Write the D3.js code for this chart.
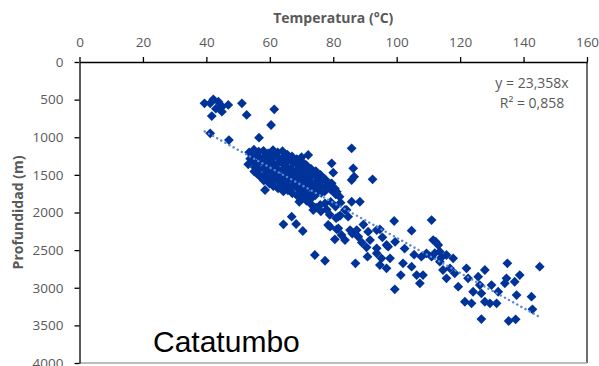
<!DOCTYPE html>
<html>
<head>
<meta charset="utf-8">
<script src="https://cdn.jsdelivr.net/npm/d3@7"></script>
<style>
  body { margin: 0; background: #fff; }
  svg text { font-family: "Open Sans", sans-serif; }
</style>
</head>
<body>
<div id="chart"></div>
<script>
const width = 599;
const height = 366;

const xTicks = [0, 20, 40, 60, 80, 100, 120, 140, 160];
const yTicks = [0, 500, 1000, 1500, 2000, 2500, 3000, 3500, 4000];

// [temperatura °C, profundidad m]
const shallowPoints = [
  [39.4, 549], [42.2, 496], [41.2, 549], [43.8, 528], [46.9, 571], [44.9, 660],
  [41.7, 718], [43, 620], [45, 590], [51.2, 549], [52.7, 704], [61.4, 629],
  [60.4, 837], [41.2, 948], [47.1, 1037], [56.6, 1006], [72.1, 1236]
];

const clusterPoints = [
  [53.5, 1200], [53.8, 1285], [53.2, 1360],
  [55, 1165], [55.2, 1245], [54.8, 1320], [55.3, 1400], [55.1, 1455],
  [56.5, 1190], [56.8, 1270], [56.3, 1350], [56.6, 1430], [56.9, 1520],
  [58, 1180], [58.3, 1255], [57.8, 1330], [58.2, 1410], [58.4, 1490], [58.1, 1575],
  [59.5, 1215], [59.8, 1290], [59.3, 1370], [59.7, 1450], [59.6, 1530], [59.9, 1615],
  [61, 1170], [61.3, 1250], [60.8, 1330], [61.2, 1410], [61.4, 1490], [60.9, 1570], [61.1, 1650],
  [62.5, 1200], [62.8, 1280], [62.3, 1360], [62.7, 1440], [62.4, 1520], [62.9, 1600], [62.6, 1680],
  [64, 1185], [64.3, 1260], [63.8, 1340], [64.2, 1420], [64.4, 1500], [63.9, 1580], [64.1, 1660], [64.3, 1720],
  [65.5, 1230], [65.8, 1310], [65.3, 1390], [65.6, 1470], [65.9, 1550], [65.4, 1630], [65.7, 1705],
  [67, 1255], [67.3, 1340], [66.8, 1420], [67.2, 1500], [67.4, 1580], [66.9, 1660], [67.1, 1745],
  [68.5, 1290], [68.8, 1370], [68.3, 1450], [68.7, 1530], [68.4, 1610], [68.9, 1690], [68.6, 1775],
  [70, 1265], [70.3, 1330], [69.8, 1410], [70.2, 1490], [70.4, 1570], [69.9, 1650], [70.1, 1730], [70.3, 1815],
  [71.5, 1370], [71.8, 1450], [71.3, 1530], [71.7, 1610], [71.4, 1690], [71.9, 1770], [71.6, 1845],
  [73, 1420], [73.3, 1500], [72.8, 1580], [73.2, 1660], [73.4, 1740], [72.9, 1820], [73.1, 1895],
  [74.5, 1450], [74.8, 1530], [74.3, 1610], [74.7, 1690], [74.4, 1770], [74.6, 1935],
  [76, 1500], [76.3, 1580], [75.8, 1660], [76.2, 1740], [75.9, 1900], [76.1, 1985],
  [77.5, 1560], [77.8, 1640], [77.3, 1720], [77.4, 1880], [77.9, 1960],
  [79, 1620], [79.3, 1700], [79.2, 1860], [78.9, 2030],
  [80.5, 1680], [80.8, 1760], [80.7, 1920], [80.9, 2075],
  [82, 1790], [82.3, 1870], [82.2, 2040]
];

const middlePoints = [
  [55.9, 1479], [58.5, 1701], [64.3, 2157], [66.9, 2056], [68.3, 2153], [70.4, 2246],
  [69.3, 1857], [73.7, 1967], [79.5, 1346], [80, 1471], [79.5, 1612], [81.1, 1724],
  [83.7, 1967], [81.6, 2056], [79, 2189], [81.6, 2210], [82.6, 2299], [85.8, 1147],
  [86.3, 1413], [85.8, 1568], [86.6, 1524], [92.4, 1559], [85.8, 1857], [88.4, 1857],
  [84.2, 1967], [84.7, 2056], [78.4, 2166], [81.1, 2223], [85.3, 2233], [87.4, 2233],
  [91, 2255], [93.7, 2233], [94.7, 2223], [80.5, 2356], [83.7, 2366], [87.9, 2322],
  [91.6, 2366], [90.5, 2463], [93.7, 2476], [96.8, 2432], [99.2, 2113], [104.7, 2242],
  [111, 2100], [111.5, 2366], [112.3, 2388], [113.1, 2432], [74.2, 2565], [77.4, 2641],
  [86, 2280], [89, 2400], [89.5, 2160], [95.5, 2330], [99.5, 2390], [102.5, 2480],
  [105.5, 2560]
];

const deepPoints = [
  [87, 2675], [90.8, 2587], [93.7, 2542], [95.2, 2609], [94.7, 2698], [96.8, 2742],
  [97.9, 2609], [97.3, 2454], [102, 2675], [104.7, 2720], [101.3, 2831], [99.4, 3021],
  [107.8, 2587], [109.4, 2542], [111, 2587], [106.3, 2831], [108.3, 2831], [107.3, 2941],
  [112, 2540], [114, 2600], [113.6, 2521], [115.7, 2565], [117.8, 2609], [113.6, 2654],
  [114.6, 2764], [116.8, 2742], [118.3, 2808], [122, 2742], [115.7, 2875], [119.4, 2986],
  [122.5, 2875], [125.7, 2853], [127.8, 2764], [124.1, 3053], [126.2, 2964], [126.7, 3074],
  [121.5, 3186], [123.6, 3207], [127.8, 3186], [129.4, 3207], [131.5, 3207], [129.9, 2964],
  [132, 3053], [134.1, 2941], [134.9, 2675], [134.6, 2875], [137.2, 2920], [138.8, 2831],
  [137.8, 3097], [142.5, 3119], [142.8, 3287], [145.1, 2720], [126.7, 3416], [135.3, 3442],
  [137.5, 3420]
];

const slope = 23.358;
const trendExtent = [39.5, 145];
const equationLines = ["y = 23,358x", "R\u00b2 = 0,858"];

const allPoints = shallowPoints.concat(clusterPoints, middlePoints, deepPoints);

const margin = { top: 62, left: 79.5, right: 12, bottom: 3 };

const svg = d3.select("#chart")
  .append("svg")
  .attr("width", width)
  .attr("height", height);

const x = d3.scaleLinear()
  .domain([0, 160])
  .range([margin.left, width - margin.right]);

const y = d3.scaleLinear()
  .domain([0, 4000])
  .range([margin.top, height - margin.bottom]);

// plot frame (right and bottom in gray)
svg.append("line")
  .attr("x1", x(160)).attr("x2", x(160))
  .attr("y1", y(0)).attr("y2", y(4000))
  .attr("stroke", "#6e6e6e")
  .attr("stroke-width", 2);
svg.append("line")
  .attr("x1", x(0)).attr("x2", x(160))
  .attr("y1", y(4000)).attr("y2", y(4000))
  .attr("stroke", "#a6a6a6")
  .attr("stroke-width", 1.5);

// points
svg.append("g")
  .selectAll("path")
  .data(allPoints)
  .enter()
  .append("path")
  .attr("d", d3.symbol(d3.symbolSquare, 48))
  .attr("transform", d => `translate(${x(d[0])},${y(d[1])}) rotate(45)`)
  .attr("fill", "#003399");

// trend line
svg.append("line")
  .attr("x1", x(trendExtent[0])).attr("y1", y(slope * trendExtent[0]))
  .attr("x2", x(trendExtent[1])).attr("y2", y(slope * trendExtent[1]))
  .attr("stroke", "#5a88d6")
  .attr("stroke-width", 2.4)
  .attr("stroke-linecap", "round")
  .attr("stroke-dasharray", "0.1 4.6");

// axes
const xAxis = svg.append("g")
  .attr("transform", `translate(0,${margin.top})`)
  .call(d3.axisTop(x).tickValues(xTicks).tickFormat(d3.format("d"))
    .tickSize(5).tickSizeOuter(0).tickPadding(10));

const yAxis = svg.append("g")
  .attr("transform", `translate(${margin.left},0)`)
  .call(d3.axisLeft(y).tickValues(yTicks).tickFormat(d3.format("d"))
    .tickSize(5).tickSizeOuter(0).tickPadding(11));

[xAxis, yAxis].forEach(g => {
  g.select(".domain").attr("stroke", "#000").attr("stroke-width", 1.3);
  g.selectAll(".tick line").attr("stroke", "#000").attr("stroke-width", 1.3);
  g.selectAll(".tick text")
    .attr("fill", "#595959")
    .style("font-size", "13.5px")
    .style("font-family", "'Open Sans', sans-serif");
});

// titles
svg.append("text")
  .attr("x", (x(0) + x(160)) / 2)
  .attr("y", 23)
  .attr("text-anchor", "middle")
  .attr("fill", "#595959")
  .style("font-size", "14px")
  .style("font-weight", "bold")
  .text("Temperatura (\u00b0C)");

svg.append("text")
  .attr("transform", `translate(23,${(y(0) + y(4000)) / 2}) rotate(-90)`)
  .attr("text-anchor", "middle")
  .attr("fill", "#595959")
  .style("font-size", "14px")
  .style("font-weight", "bold")
  .text("Profundidad (m)");

// equation
svg.append("g")
  .selectAll("text")
  .data(equationLines)
  .enter()
  .append("text")
  .attr("x", 532)
  .attr("y", (d, i) => 88 + i * 20)
  .attr("text-anchor", "middle")
  .attr("fill", "#595959")
  .style("font-size", "14px")
  .text(d => d);

svg.append("text")
  .attr("x", 153)
  .attr("y", 352)
  .attr("fill", "#000")
  .style("font-family", "'Liberation Sans', Arial, sans-serif")
  .style("font-size", "30px")
  .text("Catatumbo");
</script>
</body>
</html>
